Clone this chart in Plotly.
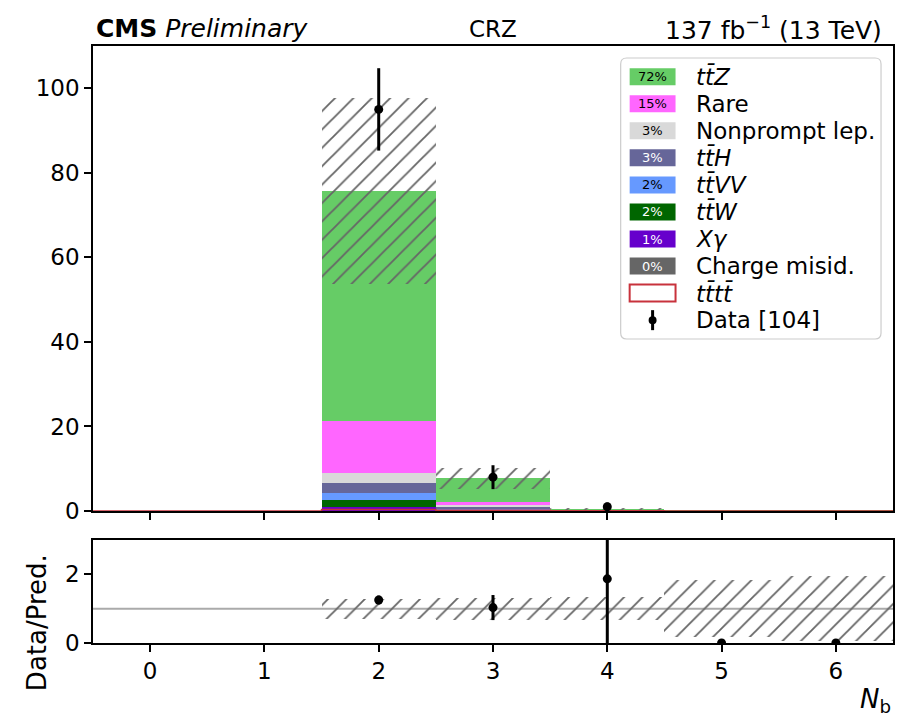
import numpy as np
import plotly.graph_objects as go

# ---- yields per N_b bin -------------------------------------------------
bins = [0, 1, 2, 3, 4, 5, 6]
tick_labels = ["0", "1", "2", "3", "4", "5", "6"]

ttZ = [0, 0, 54.6, 5.70, 0.375, 0.040, 0.012]
rare = [0, 0, 12.2, 0.70, 0.060, 0.006, 0.002]
nonprompt = [0, 0, 2.40, 0.30, 0.020, 0.0, 0.0]
ttH = [0, 0, 2.30, 0.35, 0.020, 0.005, 0.002]
ttVV = [0, 0, 1.70, 0.30, 0.030, 0.005, 0.003]
ttW = [0, 0, 1.70, 0.30, 0.020, 0.003, 0.001]
xgamma = [0, 0, 0.87, 0.10, 0.010, 0.0, 0.0]
chargemisid = [0, 0, 0.03, 0.0, 0.0, 0.0, 0.0]
tttt = [0, 0, 0.35, 0.18, 0.06, 0.02, 0.01]
data = [0, 0, 95, 8, 1, 0, 0]
total_unc = [0, 0, 22.0, 2.5, 0.18, 0.049, 0.019]

# stacking order: bottom first
stack = [
    ("Charge misid.", chargemisid, "#666666", "white"),
    ("<i>X</i><i>γ</i>", xgamma, "#6600cc", "white"),
    ("<i>tt̄W</i>", ttW, "#006600", "white"),
    ("<i>tt̄VV</i>", ttVV, "#6699ff", "black"),
    ("<i>tt̄H</i>", ttH, "#666699", "white"),
    ("Nonprompt lep.", nonprompt, "#d9d9d9", "black"),
    ("Rare", rare, "#ff66ff", "black"),
    ("<i>tt̄Z</i>", ttZ, "#66cc66", "black"),
]
TTTT_COLOR = "#c8323c"
HATCH = "#666666"

x = np.array(bins, dtype=float)
total = np.zeros(len(bins))
for _, vals, _, _ in stack:
    total += np.array(vals)
grand = total.sum()

# ---- pixel geometry helpers (figure 897 x 720) --------------------------
W, H = 897, 720
L, R, T, B = 93, 895, 46, 643


def px(xp):
    return (xp - L) / (R - L)


def py(yp):
    return (B - yp) / (B - T)


FONT = "DejaVu Sans"
hatch = dict(shape="/", fgcolor=HATCH, fgopacity=1, bgcolor="rgba(0,0,0,0)",
             size=13, solidity=0.14, fillmode="overlay")
fig = go.Figure()

# stacked backgrounds
base = np.zeros(len(bins))
for name, vals, color, _ in stack:
    v = np.array(vals, dtype=float)
    fig.add_trace(go.Bar(
        x=x, y=v, base=base.copy(), width=1.0,
        marker=dict(color=color, line=dict(width=0)),
        xaxis="x", yaxis="y", showlegend=False, hoverinfo="skip",
    ))
    base += v

# total uncertainty band (hatched)
unc = np.array(total_unc)
fig.add_trace(go.Bar(
    x=x, y=2 * unc, base=total - unc, width=1.0,
    marker=dict(color="rgba(0,0,0,0)", line=dict(width=0), pattern=hatch),
    xaxis="x", yaxis="y", showlegend=False, hoverinfo="skip",
))

# tttt signal as outline step
edges = np.concatenate([x - 0.5, [x[-1] + 0.5]])
fig.add_trace(go.Scatter(
    x=edges, y=list(tttt) + [tttt[-1]], mode="lines", line_shape="hv",
    line=dict(color=TTTT_COLOR, width=1.5),
    xaxis="x", yaxis="y", showlegend=False, hoverinfo="skip",
))

# data points
d = np.array(data, dtype=float)
has = d > 0
fig.add_trace(go.Scatter(
    x=x[has], y=d[has], mode="markers",
    marker=dict(color="black", size=9),
    error_y=dict(type="data", array=np.sqrt(d[has]), color="black", thickness=3, width=0),
    xaxis="x", yaxis="y", showlegend=False, hoverinfo="skip",
))

# ---- ratio panel --------------------------------------------------------
pred = total > 0
rel = np.where(pred, unc / np.where(pred, total, 1), 0)
lo = np.clip(1 - rel, 0, None)
hi = 1 + rel
fig.add_trace(go.Bar(
    x=x[pred], y=(hi - lo)[pred], base=lo[pred], width=1.0,
    marker=dict(color="rgba(0,0,0,0)", line=dict(width=0), pattern=hatch),
    xaxis="x2", yaxis="y2", showlegend=False, hoverinfo="skip",
))
ratio = d[pred] / total[pred]
ratio_err = np.sqrt(d[pred]) / total[pred]
fig.add_trace(go.Scatter(
    x=x[pred], y=ratio, mode="markers",
    marker=dict(color="black", size=9),
    error_y=dict(type="data", array=ratio_err, color="black", thickness=3, width=0),
    xaxis="x2", yaxis="y2", showlegend=False, hoverinfo="skip", cliponaxis=True,
))

shapes = [dict(type="line", xref="x2", yref="y2", x0=-0.5, x1=6.5, y0=1, y1=1,
               line=dict(color="#aaaaaa", width=2), layer="below")]

# ---- legend drawn as shapes + annotations --------------------------------
annotations = []
lx0, lx1, ly0, ly1 = 622, 883, 58, 339
rad = 6
path = (f"M {px(lx0 + rad)},{py(ly0)} L {px(lx1 - rad)},{py(ly0)} "
        f"Q {px(lx1)},{py(ly0)} {px(lx1)},{py(ly0 + rad)} L {px(lx1)},{py(ly1 - rad)} "
        f"Q {px(lx1)},{py(ly1)} {px(lx1 - rad)},{py(ly1)} L {px(lx0 + rad)},{py(ly1)} "
        f"Q {px(lx0)},{py(ly1)} {px(lx0)},{py(ly1 - rad)} L {px(lx0)},{py(ly0 + rad)} "
        f"Q {px(lx0)},{py(ly0)} {px(lx0 + rad)},{py(ly0)} Z")
shapes.append(dict(type="path", xref="paper", yref="paper", path=path,
                   fillcolor="rgba(255,255,255,0.8)", line=dict(color="#cccccc", width=1.2)))

LEG_SIZE = 23
row0, dy = 76.7, 27.05
px0, px1 = 631, 677
tx = 696
entries = list(reversed(stack))
for i, (name, vals, color, tcol) in enumerate(entries):
    yc = row0 + i * dy
    shapes.append(dict(type="rect", xref="paper", yref="paper",
                       x0=px(px0), x1=px(px1), y0=py(yc - 8.5), y1=py(yc + 8.5),
                       fillcolor=color, line=dict(width=0)))
    pct = int(round(100 * sum(vals) / grand))
    annotations.append(dict(xref="paper", yref="paper", x=px((px0 + px1) / 2), y=py(yc),
                            text=f"{pct}%", showarrow=False, xanchor="center", yanchor="middle",
                            font=dict(family=FONT, size=13, color=tcol)))
    annotations.append(dict(xref="paper", yref="paper", x=px(tx), y=py(yc),
                            text=name, showarrow=False, xanchor="left", yanchor="middle",
                            font=dict(family=FONT, size=LEG_SIZE, color="black")))
# tttt entry
yc = row0 + 8 * dy
shapes.append(dict(type="rect", xref="paper", yref="paper",
                   x0=px(px0), x1=px(px1), y0=py(yc - 8.5), y1=py(yc + 8.5),
                   fillcolor="white", line=dict(color=TTTT_COLOR, width=2)))
annotations.append(dict(xref="paper", yref="paper", x=px(tx), y=py(yc),
                        text="<i>tt̄tt̄</i>", showarrow=False, xanchor="left", yanchor="middle",
                        font=dict(family=FONT, size=LEG_SIZE, color="black")))
# data entry
yc = row0 + 9 * dy
shapes.append(dict(type="line", xref="paper", yref="paper",
                   x0=px(654), x1=px(654), y0=py(yc - 10), y1=py(yc + 10),
                   line=dict(color="black", width=3)))
shapes.append(dict(type="circle", xref="paper", yref="paper",
                   x0=px(650), x1=px(658), y0=py(yc + 4), y1=py(yc - 4),
                   fillcolor="black", line=dict(width=0)))
annotations.append(dict(xref="paper", yref="paper", x=px(tx), y=py(yc),
                        text=f"Data [{int(sum(data))}]", showarrow=False, xanchor="left",
                        yanchor="middle", font=dict(family=FONT, size=LEG_SIZE, color="black")))

# ---- header and axis titles ---------------------------------------------
annotations += [
    dict(xref="paper", yref="paper", x=px(94), y=py(28), xanchor="left", yanchor="middle",
         text="<b>CMS</b> <i>Preliminary</i>", showarrow=False,
         font=dict(family=FONT, size=25, color="black")),
    dict(xref="paper", yref="paper", x=0.5, y=py(29), xanchor="center", yanchor="middle",
         text="CRZ", showarrow=False, font=dict(family=FONT, size=23, color="black")),
    dict(xref="paper", yref="paper", x=px(886), y=py(28), xanchor="right", yanchor="middle",
         text="137 fb<sup>−1</sup> (13 TeV)", showarrow=False,
         font=dict(family=FONT, size=25, color="black")),
    dict(xref="paper", yref="paper", x=1.0, y=py(700), xanchor="right", yanchor="middle",
         text="<i>N</i><sub>b</sub>", showarrow=False,
         font=dict(family=FONT, size=26, color="black")),
    dict(xref="paper", yref="paper", x=px(37), y=py(623), xanchor="center", yanchor="middle",
         text="Data/Pred.", textangle=-90, showarrow=False,
         font=dict(family=FONT, size=26, color="black")),
]

axis_common = dict(showline=True, linecolor="black", linewidth=1.5, mirror=True,
                   ticks="outside", ticklen=7, tickwidth=1.5, tickcolor="black",
                   showgrid=False, zeroline=False,
                   tickfont=dict(family=FONT, size=23, color="black"))

fig.update_layout(
    width=W, height=H,
    margin=dict(l=L, r=W - R, t=T, b=H - B),
    paper_bgcolor="white", plot_bgcolor="white",
    barmode="overlay", bargap=0,
    showlegend=False,
    xaxis=dict(**axis_common, domain=[0, 1], range=[-0.5, 6.5], tickvals=bins,
               showticklabels=False, anchor="y", matches="x2"),
    yaxis=dict(**axis_common, domain=[py(511), 1], range=[0, 110],
               tickvals=[0, 20, 40, 60, 80, 100], anchor="x"),
    xaxis2=dict(**axis_common, domain=[0, 1], range=[-0.5, 6.5], tickvals=bins,
                ticktext=tick_labels, anchor="y2"),
    yaxis2=dict(**axis_common, domain=[0, py(540)], range=[0, 3],
                tickvals=[0, 2], anchor="x2"),
    shapes=shapes,
    annotations=annotations,
)

fig.write_html("out.html")
